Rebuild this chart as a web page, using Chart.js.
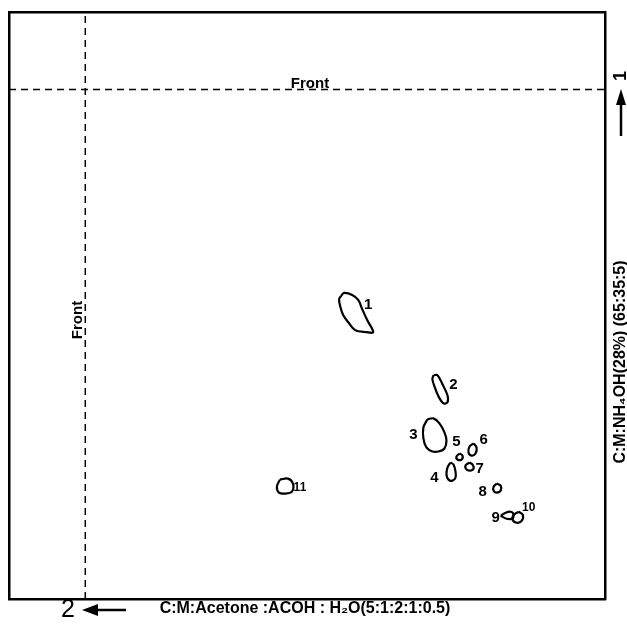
<!DOCTYPE html>
<html>
<head>
<meta charset="utf-8">
<script src="https://cdn.jsdelivr.net/npm/chart.js@4"></script>
<style>
  html, body { margin: 0; padding: 0; background: #fff; }
</style>
</head>
<body>
<canvas id="plate" width="627" height="626"></canvas>
<script>
// plate coordinates: 0..100 both ways, origin at bottom left
const frontX = 12.8;   // solvent front, 2nd direction
const frontY = 86.8;   // solvent front, 1st direction

// spot outlines
const spot1  = [[55.72,51.62],[56.23,52.14],[57.58,51.79],[58.59,50.94],[59.26,49.40],[60.10,47.52],[61.11,45.47],[59.93,45.47],[58.08,45.81],[56.90,47.18],[56.06,48.38],[55.56,49.91],[55.39,51.11]];
const spot2  = [[71.21,38.12],[71.89,38.12],[72.73,36.58],[73.57,34.70],[73.57,33.50],[72.90,33.33],[72.05,34.53],[71.38,36.24],[71.04,37.44]];
const spot3  = [[70.20,30.60],[71.21,30.77],[72.22,29.91],[73.06,28.38],[73.40,27.01],[73.06,25.64],[72.05,25.13],[71.04,25.13],[70.03,25.81],[69.53,27.35],[69.53,29.23]];
const spot4  = [[74.07,23.25],[74.58,22.91],[74.92,21.71],[74.92,20.68],[74.41,20.17],[73.74,20.34],[73.40,21.20],[73.57,22.39]];
const spot5  = [[75.59,24.79],[76.09,24.44],[75.93,23.76],[75.25,23.76],[75.08,24.27]];
const spot6  = [[77.95,26.50],[78.45,25.81],[78.28,24.79],[77.61,24.44],[77.10,24.96],[77.27,25.98]];
const spot7  = [[77.27,23.25],[77.78,22.91],[77.95,22.22],[77.44,21.88],[76.77,22.05],[76.60,22.74]];
const spot8  = [[81.82,19.66],[82.49,19.32],[82.49,18.46],[81.82,18.12],[81.31,18.46],[81.31,19.15]];
const spot9  = [[82.49,14.19],[83.33,14.70],[84.18,14.87],[84.68,14.36],[84.34,13.68],[83.50,13.68]];
const spot10 = [[85.52,14.87],[86.20,14.36],[86.03,13.33],[85.19,12.99],[84.51,13.50],[84.68,14.36]];
const spot11 = [[45.45,20.34],[46.80,20.51],[47.64,19.66],[47.47,18.29],[46.30,17.95],[45.29,18.12],[44.95,19.15]];
const spots = [spot1, spot2, spot3, spot4, spot5, spot6, spot7, spot8, spot9, spot10, spot11];

// spot numbers
const labelText = ['1', '2', '3', '4', '5', '6', '7', '8', '9', '10', '11'];
const labelX    = [60.27, 74.58, 67.85, 71.38, 75.08, 79.63, 78.96, 79.46, 81.65, 87.20, 48.82];
const labelY    = [50.09, 36.41, 28.03, 20.68, 26.84, 27.18, 22.22, 18.29, 13.85, 15.55, 18.97];

const xSolvent = 'C:M:Acetone :ACOH : H\u2082O(5:1:2:1:0.5)';
const ySolvent = 'C:M:NH\u2084OH(28%) (65:35:5)';

const FONT = '"Liberation Sans", Arial, sans-serif';

function closed(pts) {
  const out = pts.map(p => ({ x: p[0], y: p[1] }));
  out.push(out[0]);
  return out;
}

const datasets = spots.map(s => ({
  data: closed(s),
  showLine: true,
  borderColor: '#000',
  borderWidth: 2.2,
  pointRadius: 0,
  tension: 0.35,
  fill: false
}));

datasets.push({
  data: [{ x: frontX, y: 0 }, { x: frontX, y: 100 }],
  showLine: true, borderColor: '#000', borderWidth: 1.5, borderDash: [7, 5], pointRadius: 0
});
datasets.push({
  data: [{ x: 0, y: frontY }, { x: 100, y: frontY }],
  showLine: true, borderColor: '#000', borderWidth: 1.5, borderDash: [7, 5], pointRadius: 0
});

const plateText = {
  id: 'plateText',
  afterDatasetsDraw(chart) {
    const ctx = chart.ctx;
    const xs = chart.scales.x, ys = chart.scales.y;
    const a = chart.chartArea;
    ctx.save();
    ctx.fillStyle = '#000';
    ctx.strokeStyle = '#000';

    // spot numbers
    ctx.textAlign = 'center';
    ctx.textBaseline = 'middle';
    labelText.forEach((t, i) => {
      ctx.font = 'bold ' + (t.length > 1 ? 12 : 15) + 'px ' + FONT;
      ctx.fillText(t, xs.getPixelForValue(labelX[i]), ys.getPixelForValue(labelY[i]));
    });

    // front marks
    ctx.font = 'bold 15px ' + FONT;
    ctx.textBaseline = 'alphabetic';
    ctx.fillText('Front', 310, ys.getPixelForValue(frontY) - 1);
    ctx.save();
    ctx.translate(xs.getPixelForValue(frontX) - 3, 320);
    ctx.rotate(-Math.PI / 2);
    ctx.fillText('Front', 0, 0);
    ctx.restore();

    // bottom: direction 2
    ctx.textBaseline = 'middle';
    ctx.font = '25px ' + FONT;
    ctx.fillText('2', 68, 610);
    ctx.lineWidth = 2.5;
    ctx.beginPath(); ctx.moveTo(92, 610); ctx.lineTo(126, 610); ctx.stroke();
    ctx.beginPath(); ctx.moveTo(82, 610); ctx.lineTo(98, 604); ctx.lineTo(98, 616); ctx.closePath(); ctx.fill();
    ctx.font = 'bold 16px ' + FONT;
    ctx.fillText(xSolvent, 305, 609);

    // right: direction 1
    const rx = a.right + 16;
    ctx.save();
    ctx.translate(rx, 76);
    ctx.rotate(-Math.PI / 2);
    ctx.font = 'bold 18px ' + FONT;
    ctx.fillText('1', 0, 0);
    ctx.restore();
    ctx.beginPath(); ctx.moveTo(rx, 100); ctx.lineTo(rx, 136); ctx.stroke();
    ctx.beginPath(); ctx.moveTo(rx, 89); ctx.lineTo(rx - 5, 105); ctx.lineTo(rx + 5, 105); ctx.closePath(); ctx.fill();

    ctx.save();
    ctx.translate(rx, 362);
    ctx.rotate(-Math.PI / 2);
    ctx.font = 'bold 16px ' + FONT;
    ctx.fillText(ySolvent, 0, 0);
    ctx.restore();

    ctx.restore();
  }
};

const edge = pos => ({
  type: 'linear',
  position: pos,
  min: 0, max: 100,
  ticks: { display: false },
  grid: { display: false, drawTicks: false },
  border: { display: true, color: '#000', width: 2.5 }
});

new Chart(document.getElementById('plate'), {
  type: 'scatter',
  data: { datasets },
  options: {
    responsive: false,
    animation: false,
    layout: { padding: { left: 9, top: 12, right: 22, bottom: 27 } },
    plugins: { legend: { display: false }, tooltip: { enabled: false } },
    scales: {
      x: edge('bottom'),
      y: edge('left'),
      x2: edge('top'),
      y2: edge('right')
    }
  },
  plugins: [plateText]
});
</script>
</body>
</html>
